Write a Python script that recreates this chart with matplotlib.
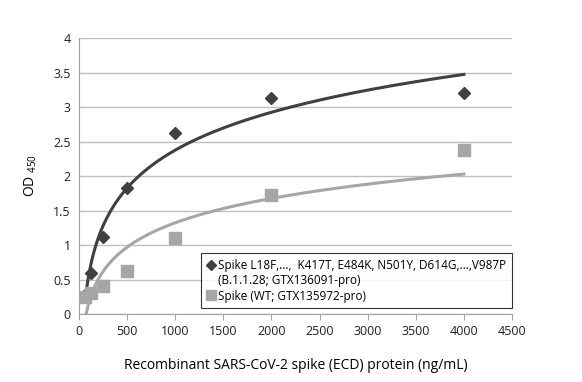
import numpy as np
import matplotlib
matplotlib.use("Agg")
import matplotlib.pyplot as plt
from matplotlib.lines import Line2D

# data
conc = [62.5, 125, 250, 500, 1000, 2000, 4000]
od_variant = [0.28, 0.60, 1.11, 1.82, 2.63, 3.13, 3.21]
od_wt = [0.25, 0.30, 0.41, 0.63, 1.10, 1.72, 2.37]

label_variant = ["Spike L18F,...,  K417T, E484K, N501Y, D614G,...,V987P",
                 "(B.1.1.28; GTX136091-pro)"]
label_wt = "Spike (WT; GTX135972-pro)"

dark = "#404040"
light = "#a6a6a6"

plt.rcParams['font.family'] = ['Open Sans', 'DejaVu Sans']
plt.rcParams['mathtext.fontset'] = 'custom'
plt.rcParams['mathtext.rm'] = 'Open Sans'

fig = plt.figure(figsize=(5.82, 3.82), dpi=100)
ax = fig.add_axes([0.1357, 0.178, 0.744, 0.7225])

# logarithmic trendlines (like the spreadsheet ones)
xs = np.linspace(min(conc), max(conc), 400)
for yv, col in [(od_variant, dark), (od_wt, light)]:
    a, b = np.polyfit(np.log(conc), yv, 1)
    ax.plot(xs, a * np.log(xs) + b, color=col, lw=2.2, zorder=3)

ax.plot(conc, od_variant, 'D', color=dark, ms=6.5, ls='none', zorder=4)
ax.plot(conc, od_wt, 's', color=light, ms=8, ls='none', zorder=4)

ax.set_xlim(0, 4500)
ax.set_ylim(0, 4)
ax.set_xticks(np.arange(0, 4501, 500))
ax.set_yticks(np.arange(0, 4.01, 0.5))
ax.set_yticklabels(['0', '0.5', '1', '1.5', '2', '2.5', '3', '3.5', '4'])
ax.yaxis.grid(True, color='#bfbfbf', lw=1)
ax.set_axisbelow(True)

for s in ['top', 'right']:
    ax.spines[s].set_visible(False)
for s in ['left', 'bottom']:
    ax.spines[s].set_color('#a0a0a0')
ax.tick_params(axis='y', length=0, labelsize=9, pad=6)
ax.tick_params(axis='x', length=4, color='#a0a0a0', labelsize=9, pad=4)
for t in ax.get_xticklabels() + ax.get_yticklabels():
    t.set_color('#202020')

ax.set_xlabel('Recombinant SARS-CoV-2 spike (ECD) protein (ng/mL)', fontsize=10, labelpad=14)
ax.set_ylabel(r'OD $_{\mathrm{450}}$', fontsize=10, labelpad=10)

# legend: marker sits on the first line of the wrapped label
handles = [Line2D([], [], marker='D', color=dark, ms=5, ls='none'),
           Line2D([], [], marker='none', ls='none'),
           Line2D([], [], marker='s', color=light, ms=7, ls='none')]
labels = [label_variant[0], label_variant[1], label_wt]
leg = ax.legend(handles, labels, loc='lower right', bbox_to_anchor=(1.0, 0.02), fontsize=8.5,
                frameon=True, fancybox=False, handlelength=0.6, handletextpad=0.3,
                borderpad=0.5, labelspacing=0.2, borderaxespad=0)
leg.get_frame().set_edgecolor('black')
leg.get_frame().set_linewidth(0.8)

fig.savefig('out.png', dpi=100)
